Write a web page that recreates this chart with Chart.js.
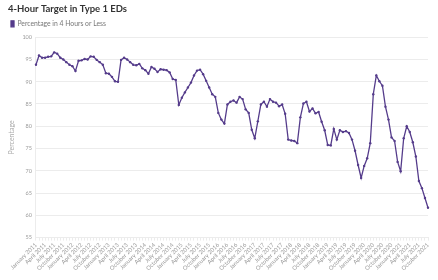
<!DOCTYPE html>
<html>
<head>
<meta charset="utf-8">
<script src="https://cdn.jsdelivr.net/npm/chart.js@4"></script>
<style>
html,body{margin:0;padding:0;background:#fff;}
#wrap{width:438px;height:280px;position:relative;}
</style>
</head>
<body>
<div id="wrap"><canvas id="c" width="438" height="280"></canvas></div>
<script>
const months = ["January","February","March","April","May","June","July","August","September","October","November","December"];
const startYear = 2011;
const categories = [];
for (let i = 0; i < 130; i++) {
  categories.push(months[i % 12] + " " + (startYear + Math.floor(i / 12)));
}
const seriesName = "Percentage in 4 Hours or Less";
const values = [
  93.8, 95.9, 95.4, 95.4, 95.6, 95.7, 96.6, 96.3, 95.4, 95.0,
  94.4, 93.8, 93.5, 92.4, 94.7, 94.8, 95.1, 95.0, 95.7, 95.6,
  94.9, 94.4, 93.8, 91.9, 91.8, 91.1, 90.1, 90.0, 94.9, 95.4,
  95.0, 94.4, 93.8, 93.7, 94.0, 93.0, 92.6, 91.8, 93.3, 92.9,
  92.2, 92.8, 92.7, 92.6, 92.1, 90.6, 90.4, 84.8, 86.4, 87.6,
  88.7, 89.8, 91.4, 92.5, 92.7, 91.7, 90.2, 88.7, 87.2, 86.6,
  83.0, 81.5, 80.6, 84.9, 85.5, 85.8, 85.3, 86.6, 86.1, 83.8,
  83.0, 79.2, 77.3, 81.1, 84.9, 85.5, 84.4, 86.1, 85.5, 85.3,
  84.5, 84.9, 82.8, 77.0, 76.8, 76.7, 76.2, 82.0, 85.1, 85.5,
  83.3, 84.0, 82.9, 83.2, 81.0, 79.1, 75.8, 75.7, 79.4, 77.0,
  79.1, 78.7, 78.9, 78.5, 77.0, 74.5, 71.3, 68.4, 71.1, 72.8,
  76.2, 87.2, 91.4, 90.1, 89.1, 84.4, 81.5, 77.5, 76.7, 72.0,
  69.9, 77.3, 80.0, 78.7, 76.4, 73.2, 67.7, 66.1, 63.9, 61.7
];
const yTicks = [55, 60, 65, 70, 75, 80, 85, 90, 95, 100];
const titleText = "4-Hour Target in Type 1 EDs";
const yTitle = "Percentage";

const purple = "#553c8b";
const gridCol = "#ececec";
const tickCol = "#9a9a9a";
const FONT = "Lato, 'Open Sans', sans-serif";

new Chart(document.getElementById("c"), {
  type: "line",
  data: {
    labels: categories,
    datasets: [{
      label: seriesName,
      data: values,
      borderColor: purple,
      backgroundColor: purple,
      borderWidth: 1.3,
      pointRadius: 1.2,
      pointHoverRadius: 2,
      pointBackgroundColor: purple,
      pointBorderWidth: 0,
      tension: 0,
      fill: false
    }]
  },
  options: {
    responsive: false,
    animation: false,
    devicePixelRatio: 1,
    layout: { padding: { left: 8, right: 10, top: 1, bottom: 7 } },
    plugins: {
      title: {
        display: true,
        text: titleText,
        align: "start",
        color: "#333333",
        font: { family: FONT, size: 9.5, weight: "bold" },
        padding: { top: 2, bottom: 3 }
      },
      legend: {
        display: true,
        position: "top",
        align: "start",
        labels: {
          boxWidth: 3,
          boxHeight: 6,
          padding: 3,
          color: "#777777",
          font: { family: FONT, size: 6.8 }
        }
      },
      tooltip: { enabled: false }
    },
    scales: {
      x: {
        offset: false,
        grid: { display: true, drawOnChartArea: false, color: gridCol, tickLength: 3 },
        border: { display: true, color: gridCol },
        ticks: {
          autoSkip: false,
          maxRotation: 45,
          minRotation: 45,
          padding: 1,
          color: tickCol,
          font: { family: FONT, size: 5.8 },
          callback: function (v, i) { return i % 3 === 0 ? categories[i] : ""; }
        }
      },
      y: {
        min: 55,
        max: 100,
        afterBuildTicks: function (axis) { axis.ticks = yTicks.map(v => ({ value: v })); },
        grid: { color: gridCol, drawTicks: false },
        border: { display: true, color: gridCol },
        ticks: {
          padding: 4,
          color: tickCol,
          font: { family: FONT, size: 5.5 }
        },
        title: {
          display: true,
          text: yTitle,
          color: "#aaaaaa",
          font: { family: FONT, size: 7 },
          padding: { top: 0, bottom: 2 }
        }
      }
    }
  }
});
</script>
</body>
</html>
